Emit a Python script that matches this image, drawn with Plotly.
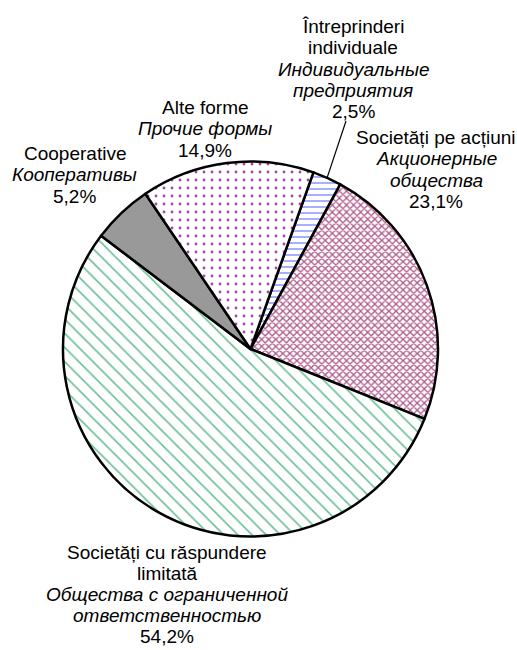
import math
import plotly.graph_objects as go

# Structure of enterprises by organisational-legal form, % of total
categories_ro = [
    ["Întreprinderi", "individuale"],
    ["Societăți pe acțiuni"],
    ["Societăți cu răspundere", "limitată"],
    ["Cooperative"],
    ["Alte forme"],
]
categories_ru = [
    ["Индивидуальные", "предприятия"],
    ["Акционерные", "общества"],
    ["Общества с ограниченной", "ответственностью"],
    ["Кооперативы"],
    ["Прочие формы"],
]
shares = [2.5, 23.1, 54.2, 5.2, 14.9]

# Slice styling: pattern colour, pattern shape
slice_colors = ["#9fa6ff", "#b0578a", "#6cc096", "#999999", "#a04aa4"]
slice_shapes = ["-", "x", "\\", "", "."]
slice_sizes = [6, 5, 10, 8, 8]
slice_solidity = [0.3, 0.45, 0.16, 0.5, 0.1]

W, H = 517, 650
CX, CY, R = 250.5, 349.0, 187.5     # pie centre and radius, px
ROTATION = 19.6                      # start of first slice, deg clockwise from 12 o'clock

# Label blocks: centre x, centre y of the first line, line step, px
label_pos = [(353, 26, 21.5), (436, 137, 21.5), (167, 552, 21.0), (74.5, 153, 21.5), (205, 107, 21.5)]
FONT = "Liberation Sans, Arial, sans-serif"


def px(x):
    return x / W


def py(y):
    return 1 - y / H


fig = go.Figure(
    go.Pie(
        values=shares,
        labels=[" ".join(c) for c in categories_ro],
        sort=False,
        direction="clockwise",
        rotation=ROTATION,
        textinfo="none",
        hoverinfo="label+percent",
        showlegend=False,
        domain=dict(x=[px(CX - R), px(CX + R)], y=[py(CY + R), py(CY - R)]),
        marker=dict(
            colors=slice_colors,
            line=dict(color="black", width=2.5),
            pattern=dict(
                shape=slice_shapes,
                fillmode="replace",
                bgcolor="white",
                size=slice_sizes,
                solidity=slice_solidity,
            ),
        ),
    )
)

annotations = []
for i, (ro, ru) in enumerate(zip(categories_ro, categories_ru)):
    x0, y0, step = label_pos[i]
    lines = list(ro) + ["<i>%s</i>" % t for t in ru] + [("%.1f%%" % shares[i]).replace(".", ",")]
    for k, t in enumerate(lines):
        annotations.append(
            dict(
                x=px(x0), y=py(y0 + k * step), xref="paper", yref="paper",
                text=t, showarrow=False, xanchor="center", yanchor="middle",
                font=dict(family=FONT, size=19, color="black"),
            )
        )

# Leader line from the small first slice to its label
total = sum(shares)
mid = math.radians(ROTATION + shares[0] / total * 360 / 2)
ex, ey = CX + R * math.sin(mid), CY - R * math.cos(mid)
lx, ly = 346, label_pos[0][1] + 4 * label_pos[0][2] + 9
shapes = [dict(type="line", xref="paper", yref="paper",
               x0=px(ex), y0=py(ey), x1=px(lx), y1=py(ly),
               line=dict(color="black", width=1.2))]

fig.update_layout(
    width=W, height=H,
    margin=dict(l=0, r=0, t=0, b=0),
    paper_bgcolor="white", plot_bgcolor="white",
    annotations=annotations,
    shapes=shapes,
)

fig.write_html("out.html")
